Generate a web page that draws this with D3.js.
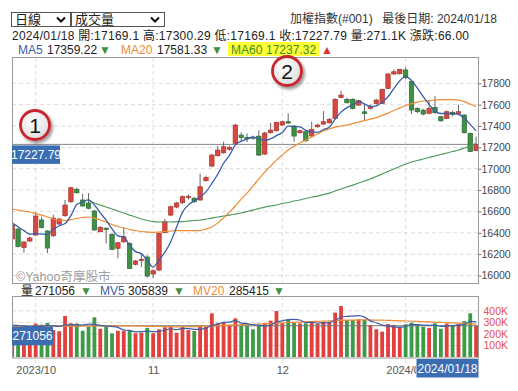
<!DOCTYPE html>
<html>
<head>
<meta charset="utf-8">
<script src="https://cdn.jsdelivr.net/npm/d3@7"></script>
<style>
body { margin: 0; background: #fff; }
svg text { font-family: 'Liberation Sans', 'Noto Sans CJK TC', sans-serif; }
</style>
</head>
<body>
<svg id="chart" width="518" height="391"></svg>
<script>
// trading days shown on the chart
var dates = [
  "2023/09/25","2023/09/26","2023/09/27","2023/09/28",
  "2023/10/02","2023/10/03","2023/10/04","2023/10/05","2023/10/06","2023/10/11","2023/10/12","2023/10/13",
  "2023/10/16","2023/10/17","2023/10/18","2023/10/19","2023/10/20","2023/10/23","2023/10/24","2023/10/25",
  "2023/10/26","2023/10/27","2023/10/30","2023/10/31",
  "2023/11/01","2023/11/02","2023/11/03","2023/11/06","2023/11/07","2023/11/08","2023/11/09","2023/11/10",
  "2023/11/13","2023/11/14","2023/11/15","2023/11/16","2023/11/17","2023/11/20","2023/11/21","2023/11/22",
  "2023/11/23","2023/11/24","2023/11/27","2023/11/28","2023/11/29","2023/11/30",
  "2023/12/01","2023/12/04","2023/12/05","2023/12/06","2023/12/07","2023/12/08","2023/12/11","2023/12/12",
  "2023/12/13","2023/12/14","2023/12/15","2023/12/18","2023/12/19","2023/12/20","2023/12/21","2023/12/22",
  "2023/12/25","2023/12/26","2023/12/27","2023/12/28","2023/12/29",
  "2024/01/02","2024/01/03","2024/01/04","2024/01/05","2024/01/08","2024/01/09","2024/01/10","2024/01/11",
  "2024/01/12","2024/01/15","2024/01/16","2024/01/17","2024/01/18"
];

var openP = [16342,16435,16262,16323,16379,16520,16417,16372,16482,16560,
  16691,16807,16707,16679,16604,16410,16443,16386,16255,16316,
  16301,16105,16140,16173,16014,16051,16401,16566,16641,16682,
  16730,16723,16707,16888,17025,17122,17150,17182,17238,17315,
  17294,17296,17305,17137,17337,17356,17409,17440,17400,17337,
  17346,17306,17393,17418,17431,17472,17668,17650,17650,17596,
  17533,17565,17612,17612,17753,17887,17890,17925,17815,17565,
  17549,17519,17575,17487,17472,17528,17518,17503,17331,17169.1];
var highP = [16492,16445,16320,16365,16594,16552,16425,16570,16540,16707,
  16830,16822,16765,16772,16615,16462,16452,16395,16315,16451,
  16310,16145,16208,16190,16055,16400,16529,16655,16690,16750,
  16760,16735,16955,16935,17140,17210,17253,17215,17420,17340,
  17330,17310,17360,17345,17430,17440,17450,17518,17410,17365,
  17350,17440,17420,17540,17475,17660,17730,17665,17660,17645,
  17612,17600,17655,17750,17895,17930,17935,17950,17825,17575,
  17560,17643,17680,17495,17545,17545,17600,17510,17340,17300.29];
var lowP = [16330,16262,16213,16312,16370,16440,16210,16362,16475,16550,
  16680,16768,16645,16620,16420,16405,16300,16240,16161,16305,
  16060,16095,16082,15980,15974,16040,16395,16555,16630,16670,
  16710,16680,16700,16880,17015,17115,17140,17170,17230,17260,
  17250,17270,17120,17130,17330,17350,17400,17420,17252,17330,
  17252,17300,17385,17410,17420,17460,17660,17610,17555,17590,
  17456,17555,17600,17605,17745,17880,17880,17840,17510,17520,
  17500,17510,17515,17440,17465,17490,17510,17330,17155,17169.1];
var closeP = [16473,16271,16314,16351,16557,16449,16257,16538,16529,16660,
  16822,16775,16651,16630,16426,16451,16430,16245,16307,16363,
  16067,16136,16152,15995,16045,16395,16504,16644,16679,16738,
  16742,16691,16831,16917,17128,17175,17206,17200,17409,17294,
  17281,17290,17128,17334,17362,17434,17440,17428,17306,17356,
  17262,17369,17409,17440,17462,17650,17690,17618,17565,17637,
  17518,17580,17643,17743,17887,17908,17931,17854,17550,17534,
  17512,17565,17525,17449,17534,17509,17534,17337,17161.79,17227.79];
// closes of the 4 days before the first one shown (for MA5)
var priorClose = [16440,16500,16520,16522];

var ma20 = [16622,16613,16604,16595,16580,16566,16548,16529,16520,16515,
  16524,16534,16543,16548,16538,16520,16501,16478,16459,16445,
  16431,16421,16412,16407,16403,16407,16412,16417,16421,16421,
  16421,16421,16421,16435,16454,16492,16538,16595,16651,16716,
  16772,16838,16904,16969,17025,17081,17128,17175,17212,17241,
  17269,17297,17325,17353,17372,17390,17400,17409,17423,17437,
  17451,17465,17479,17498,17521,17545,17568,17592,17610,17624,
  17634,17638,17643,17648,17648,17648,17643,17629,17606,17581.33];
// MA60 line starts at the 14th day on the chart
var ma60Start = 13;
var ma60 = [16702,16679,16660,16641,16623,16604,16585,16566,16548,16529,
  16515,16505,16501,16501,16501,16505,16505,16510,16515,16520,
  16529,16538,16548,16557,16566,16576,16585,16599,16613,16627,
  16641,16651,16660,16674,16684,16698,16707,16721,16735,16744,
  16758,16772,16791,16810,16829,16847,16866,16885,16904,16927,
  16950,16974,16997,17021,17044,17063,17077,17091,17105,17119,
  17133,17147,17161,17175,17194,17212,17237.32];

var volume = [275000,262000,245000,255000,290000,280000,295000,234000,224000,355000,
  292000,290000,228000,263000,344000,245000,265000,206000,228000,226000,
  228000,206000,211000,253000,206000,240000,258000,269000,211000,263000,
  234000,226000,269000,263000,378000,292000,297000,278000,335000,269000,
  269000,241000,269000,292000,315000,398000,294000,321000,299000,292000,
  292000,299000,287000,306000,306000,384000,441000,321000,321000,325000,
  321000,278000,241000,220000,286000,278000,263000,284000,297000,278000,
  263000,253000,292000,245000,290000,278000,285000,312000,378000,271056];
var priorVolume = [280000,270000,285000,275000];
var mv20 = [262000,263000,263000,264000,265000,266000,266000,267000,267000,268000,
  268000,268000,269000,269000,269000,270000,270000,270000,270000,270000,
  270000,269000,268000,267000,266000,265000,264000,263000,262000,262000,
  263000,264000,266000,268000,270000,272000,274000,276000,278000,280000,
  282000,284000,286000,288000,290000,293000,296000,299000,301000,303000,
  305000,307000,309000,311000,313000,315000,317000,319000,320000,321000,
  321000,321000,320000,319000,318000,316000,314000,312000,310000,308000,
  306000,304000,302000,300000,298000,296000,294000,291000,288000,285415];

var priceTicks = [16000,16200,16400,16600,16800,17000,17200,17400,17600,17800];
var volTicks = [100000,200000,300000,400000];
var monthTicks = ["2023/10/02","2023/11/01","2023/12/01","2024/01/02"];
var monthLabels = ["2023/10","11","12","2024/01"];

var RED = "#d9483f", RED_D = "#a8322c", GREEN = "#3f8f45", GREEN_D = "#2c6a31";
var BLUE = "#3a5da8", ORANGE = "#f08c36", MAGREEN = "#4f9a5c", BOXBLUE = "#3b6db3";

var svg = d3.select("#chart");
var L = 12, R = 478, pTop = 57, pBot = 283, vTop = 296, vBot = 357.5;

var x = d3.scalePoint().domain(dates).range([12.2, 476.1]);
var y = d3.scaleLinear().domain([16000, 17800]).range([275.5, 83.3]);
var yv = d3.scaleLinear().domain([0, 400000]).range([357.2, 310.8]);

var days = dates.map(function(d, i) {
  return {date: d, o: openP[i], h: highP[i], l: lowP[i], c: closeP[i], v: volume[i]};
});
var allClose = priorClose.concat(closeP);
var allVol = priorVolume.concat(volume);
var ma5 = dates.map(function(d, i) { return {date: d, v: d3.mean(allClose.slice(i, i + 5))}; });
var mv5 = dates.map(function(d, i) { return {date: d, v: d3.mean(allVol.slice(i, i + 5))}; });
var ma20s = dates.map(function(d, i) { return {date: d, v: ma20[i]}; });
var ma60s = ma60.map(function(v, i) { return {date: dates[i + ma60Start], v: v}; });
var mv20s = dates.map(function(d, i) { return {date: d, v: mv20[i]}; });

var defs = svg.append("defs");
defs.append("clipPath").attr("id", "clipP").append("rect")
  .attr("x", L).attr("y", pTop).attr("width", R - L).attr("height", pBot - pTop);
defs.append("clipPath").attr("id", "clipV").append("rect")
  .attr("x", L).attr("y", vTop).attr("width", R - L).attr("height", vBot - vTop);
// the last month label slides under the date box, as in the original
defs.append("clipPath").attr("id", "clipX").append("rect")
  .attr("x", 0).attr("y", -6).attr("width", 416).attr("height", 30);
var grad = defs.append("radialGradient").attr("id", "ball").attr("cx", "40%").attr("cy", "35%").attr("r", "70%");
grad.append("stop").attr("offset", "0%").attr("stop-color", "#ffffff");
grad.append("stop").attr("offset", "100%").attr("stop-color", "#dcdcdc");
defs.append("filter").attr("id", "shadow").attr("x", "-50%").attr("y", "-50%").attr("width", "200%").attr("height", "200%")
  .append("feDropShadow").attr("dx", 2).attr("dy", 2.5).attr("stdDeviation", 1.6)
  .attr("flood-color", "#000").attr("flood-opacity", 0.4);

// ---- header ----
function dropdown(x0, w, label) {
  svg.append("rect").attr("x", x0 + 0.5).attr("y", 12.5).attr("width", w).attr("height", 14)
    .attr("fill", "#fff").attr("stroke", "#555");
  svg.append("text").attr("x", x0 + 4).attr("y", 24).attr("font-size", 13).attr("fill", "#222").text(label);
  var cx = x0 + w - 9;
  svg.append("path").attr("d", "M" + (cx - 4) + ",17.5 l4,4 l4,-4")
    .attr("fill", "none").attr("stroke", "#111").attr("stroke-width", 2);
}
dropdown(11, 59, "日線");
dropdown(71, 93, "成交量");

svg.append("text").attr("x", 290).attr("y", 23).attr("font-size", 12).attr("fill", "#333").text("加權指數(#001)");
svg.append("text").attr("x", 497).attr("y", 23).attr("text-anchor", "end").attr("font-size", 12).attr("fill", "#333")
  .text("最後日期: 2024/01/18");

svg.append("text").attr("x", 12).attr("y", 39.5).attr("font-size", 12).attr("fill", "#222")
  .attr("textLength", 457).attr("lengthAdjust", "spacing")
  .text("2024/01/18 開:17169.1 高:17300.29 低:17169.1 收:17227.79 量:271.1K 漲跌:66.00");

// MA legend
svg.append("rect").attr("x", 228).attr("y", 42).attr("width", 91).attr("height", 14).attr("fill", "#ffff33");
var legend = [
  {x: 18, t: "MA5", c: BLUE}, {x: 47, t: "17359.22", c: "#222"}, {x: 99, t: "▼", c: GREEN},
  {x: 121, t: "MA20", c: ORANGE}, {x: 157, t: "17581.33", c: "#222"}, {x: 211, t: "▼", c: GREEN},
  {x: 231, t: "MA60", c: "#3c8c2c"}, {x: 266, t: "17237.32", c: "#3c8c2c"}, {x: 321, t: "▲", c: "#e03030"}
];
svg.selectAll(".lg").data(legend).enter().append("text")
  .attr("x", function(d) { return d.x; }).attr("y", 54)
  .attr("font-size", 12).attr("fill", function(d) { return d.c; })
  .text(function(d) { return d.t; });

// ---- price panel ----
var gP = svg.append("g");
gP.selectAll(".hg").data(priceTicks).enter().append("line")
  .attr("x1", L).attr("x2", R).attr("y1", function(d) { return y(d); }).attr("y2", function(d) { return y(d); })
  .attr("stroke", "#dcdcdc").attr("stroke-dasharray", "4,3");
gP.selectAll(".vg").data(monthTicks).enter().append("line")
  .attr("x1", function(d) { return x(d); }).attr("x2", function(d) { return x(d); })
  .attr("y1", pTop).attr("y2", pBot)
  .attr("stroke", "#dcdcdc").attr("stroke-dasharray", "4,3");

svg.append("text").attr("x", 16).attr("y", 280.5).attr("font-size", 12.5).attr("fill", "#a0a0a0").text("©Yahoo奇摩股市");

var lastClose = closeP[closeP.length - 1];
gP.append("line").attr("x1", L).attr("x2", R).attr("y1", y(lastClose)).attr("y2", y(lastClose))
  .attr("stroke", "#888");

var cP = gP.append("g").attr("clip-path", "url(#clipP)");
var candle = cP.selectAll(".cd").data(days).enter().append("g");
candle.append("line")
  .attr("x1", function(d) { return x(d.date); }).attr("x2", function(d) { return x(d.date); })
  .attr("y1", function(d) { return y(d.h); }).attr("y2", function(d) { return y(d.l); })
  .attr("stroke", "#666");
candle.append("rect")
  .attr("x", function(d) { return x(d.date) - 2.2; }).attr("width", 4.4)
  .attr("y", function(d) { return y(Math.max(d.o, d.c)); })
  .attr("height", function(d) { return Math.max(1, Math.abs(y(d.o) - y(d.c))); })
  .attr("fill", function(d) { return d.c >= d.o ? RED : GREEN; })
  .attr("stroke", function(d) { return d.c >= d.o ? RED_D : GREEN_D; }).attr("stroke-width", 0.7);

var line = d3.line().x(function(d) { return x(d.date); }).y(function(d) { return y(d.v); }).curve(d3.curveMonotoneX);
cP.append("path").datum(ma60s).attr("d", line).attr("fill", "none").attr("stroke", MAGREEN).attr("stroke-width", 1.2);
cP.append("path").datum(ma20s).attr("d", line).attr("fill", "none").attr("stroke", ORANGE).attr("stroke-width", 1.2);
cP.append("path").datum(ma5).attr("d", line).attr("fill", "none").attr("stroke", BLUE).attr("stroke-width", 1.3);

gP.append("rect").attr("x", L + 0.5).attr("y", pTop + 0.5).attr("width", R - L).attr("height", pBot - pTop)
  .attr("fill", "none").attr("stroke", "#9a9a9a");

svg.append("g").attr("transform", "translate(" + (R + 0.5) + ",0)")
  .call(d3.axisRight(y).tickValues(priceTicks).tickSize(3).tickPadding(0).tickFormat(d3.format("d")))
  .call(function(g) { g.select(".domain").remove(); })
  .call(function(g) { g.selectAll("line").attr("stroke", "#777"); })
  .call(function(g) { g.selectAll("text").attr("font-size", 10.5).attr("fill", "#444"); });

// price label box
gP.append("rect").attr("x", L).attr("y", y(lastClose) + 1).attr("width", 48).attr("height", 18.5).attr("fill", BOXBLUE);
gP.append("text").attr("x", L + 24).attr("y", y(lastClose) + 14.5).attr("text-anchor", "middle")
  .attr("font-size", 12).attr("fill", "#fff").text(d3.format(".2f")(lastClose));

// numbered balls
var balls = [{n: "1", cx: 35, cy: 125}, {n: "2", cx: 287, cy: 71}];
var ball = svg.selectAll(".ball").data(balls).enter().append("g");
ball.append("circle").attr("cx", function(d) { return d.cx; }).attr("cy", function(d) { return d.cy; }).attr("r", 14.5)
  .attr("fill", "url(#ball)").attr("stroke", "#c8282d").attr("stroke-width", 2.8).attr("filter", "url(#shadow)");
ball.append("text").attr("x", function(d) { return d.cx; }).attr("y", function(d) { return d.cy + 7.5; })
  .attr("text-anchor", "middle").attr("font-size", 21).attr("fill", "#111").text(function(d) { return d.n; });

// ---- volume legend ----
var vlegend = [
  {x: 21, t: "量", c: "#222"}, {x: 35, t: "271056", c: "#222"}, {x: 80, t: "▼", c: GREEN},
  {x: 100, t: "MV5", c: BLUE}, {x: 128, t: "305839", c: "#222"}, {x: 173, t: "▼", c: GREEN},
  {x: 193, t: "MV20", c: ORANGE}, {x: 229, t: "285415", c: "#222"}, {x: 273, t: "▼", c: GREEN}
];
svg.selectAll(".vl").data(vlegend).enter().append("text")
  .attr("x", function(d) { return d.x; }).attr("y", 295)
  .attr("font-size", 12).attr("fill", function(d) { return d.c; })
  .text(function(d) { return d.t; });

// ---- volume panel ----
var gV = svg.append("g");
gV.append("rect").attr("x", L).attr("y", vTop).attr("width", R - L).attr("height", vBot - vTop).attr("fill", "#fff");
gV.selectAll(".hg").data(volTicks).enter().append("line")
  .attr("x1", L).attr("x2", R).attr("y1", function(d) { return yv(d); }).attr("y2", function(d) { return yv(d); })
  .attr("stroke", "#dcdcdc").attr("stroke-dasharray", "4,3");
gV.selectAll(".vg").data(monthTicks).enter().append("line")
  .attr("x1", function(d) { return x(d); }).attr("x2", function(d) { return x(d); })
  .attr("y1", vTop).attr("y2", 365)
  .attr("stroke", "#dcdcdc").attr("stroke-dasharray", "4,3");

var cV = gV.append("g").attr("clip-path", "url(#clipV)");
cV.selectAll(".vb").data(days).enter().append("rect")
  .attr("x", function(d) { return x(d.date) - 1.9; }).attr("width", 3.8)
  .attr("y", function(d) { return yv(d.v); })
  .attr("height", function(d) { return yv(0) - yv(d.v); })
  .attr("fill", function(d) { return d.c >= d.o ? "#e2403c" : "#3d9a47"; });

var lastVol = volume[volume.length - 1];
cV.append("line").attr("x1", L).attr("x2", R).attr("y1", yv(lastVol)).attr("y2", yv(lastVol)).attr("stroke", "#777");

var vline = d3.line().x(function(d) { return x(d.date); }).y(function(d) { return yv(d.v); }).curve(d3.curveMonotoneX);
cV.append("path").datum(mv20s).attr("d", vline).attr("fill", "none").attr("stroke", ORANGE).attr("stroke-width", 1.2);
cV.append("path").datum(mv5).attr("d", vline).attr("fill", "none").attr("stroke", BLUE).attr("stroke-width", 1.2);

gV.append("rect").attr("x", L + 0.5).attr("y", vTop + 0.5).attr("width", R - L).attr("height", vBot - vTop)
  .attr("fill", "none").attr("stroke", "#9a9a9a");

svg.append("g").attr("transform", "translate(" + (R + 0.5) + ",0)")
  .call(d3.axisRight(yv).tickValues(volTicks).tickSize(0).tickPadding(5)
    .tickFormat(function(d) { return (d / 1000) + "K"; }))
  .call(function(g) { g.select(".domain").remove(); })
  .call(function(g) { g.selectAll("text").attr("font-size", 10.5).attr("fill", "#e05050"); });

gV.append("rect").attr("x", L).attr("y", yv(lastVol) + 1).attr("width", 41).attr("height", 18.5).attr("fill", BOXBLUE);
gV.append("text").attr("x", L + 20.5).attr("y", yv(lastVol) + 14.5).attr("text-anchor", "middle")
  .attr("font-size", 12).attr("fill", "#fff").text(lastVol);

// ---- x axis ----
svg.append("g").attr("transform", "translate(0," + 363 + ")").attr("clip-path", "url(#clipX)")
  .call(d3.axisBottom(x).tickValues(monthTicks).tickSize(0).tickPadding(3)
    .tickFormat(function(d, i) { return monthLabels[i]; }))
  .call(function(g) { g.select(".domain").remove(); })
  .call(function(g) { g.selectAll("text").attr("font-size", 11).attr("fill", "#555"); });

var lastDate = dates[dates.length - 1];
svg.append("rect").attr("x", 416.5).attr("y", 359).attr("width", 62).attr("height", 18.5).attr("fill", BOXBLUE);
svg.append("text").attr("x", 447.5).attr("y", 372.5).attr("text-anchor", "middle")
  .attr("font-size", 12).attr("fill", "#fff").text(lastDate);
</script>
</body>
</html>
